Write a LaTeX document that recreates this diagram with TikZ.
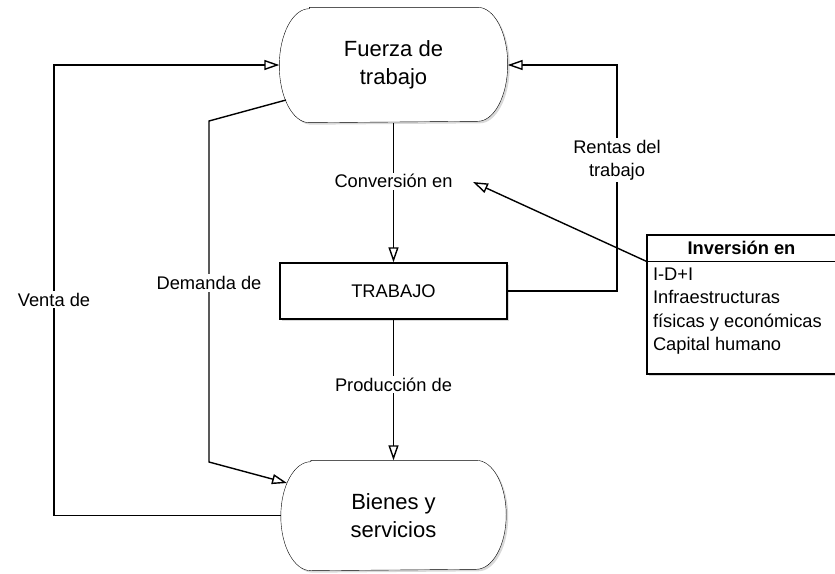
\documentclass[tikz,border=0pt]{standalone}
\usepackage{fontspec}
\setmainfont{Liberation Sans}
\usetikzlibrary{arrows.meta,shadows,backgrounds,calc}
\begin{document}
\begin{tikzpicture}[x=1pt,y=-1pt,
  line width=1.4pt,
  arr/.style={-{Triangle[open,length=15pt,width=10pt,fill=white]}},
  big/.style={font=\fontsize{22}{28}\selectfont, align=center},
  lbl/.style={fill=white, inner sep=2pt, font=\fontsize{18.3}{23}\selectfont, align=center},
  shad/.style={drop shadow={shadow xshift=2pt, shadow yshift=-2pt, opacity=0.3}},
  termbox/.style={draw=none, minimum width=#1, inner sep=0pt},
]
\useasboundingbox (0,0) rectangle (835,573);

% nodes
\node[termbox=227pt, minimum height=114pt, big] (fuerza) at (393.5,65) {Fuerza de\\trabajo};
\node[termbox=224pt, minimum height=109pt, big] (bienes) at (393.5,515.5) {Bienes y\\servicios};
\node[draw, fill=white, shad, minimum width=227pt, minimum height=56pt, inner sep=0pt,
      font=\fontsize{18.3}{23}\selectfont] (trabajo) at (393.5,291) {TRABAJO};
\node[draw, fill=white, shad, minimum width=189pt, minimum height=139pt, inner sep=0pt] (inv) at (741.5,304.5) {};
\coordinate (hl) at ($(inv.north west)+(0,27)$);
\coordinate (hr) at ($(inv.north east)+(0,27)$);
\draw (hl) -- (hr);
\node[font=\bfseries\fontsize{18.3}{23}\selectfont, inner sep=0pt] (invh) at ($(inv.north)+(0,13.5)$) {Inversión en};
\node[anchor=north west, inner sep=0pt, align=left, font=\fontsize{18.3}{23.3}\selectfont] (invt)
  at ($(inv.north west)+(6,33)$) {I-D+I\\Infraestructuras\\físicas y económicas\\Capital humano};

% terminator shapes
\begin{scope}[on background layer]
\draw[fill=white, shad] ([xshift=30pt]fuerza.north west) -- ([xshift=-30pt]fuerza.north east)
   arc[start angle=90, end angle=-90, x radius=30pt, y radius=57pt]
   -- ([xshift=30pt]fuerza.south west)
   arc[start angle=270, end angle=90, x radius=30pt, y radius=57pt] -- cycle;
\draw[fill=white, shad] ([xshift=30pt]bienes.north west) -- ([xshift=-30pt]bienes.north east)
   arc[start angle=90, end angle=-90, x radius=30pt, y radius=54.5pt]
   -- ([xshift=30pt]bienes.south west)
   arc[start angle=270, end angle=90, x radius=30pt, y radius=54.5pt] -- cycle;
\end{scope}

% coordinates for bends
\coordinate (vb) at (54,515.5);
\coordinate (vt) at (54,65);
\coordinate (d1) at (286,100);
\coordinate (d2) at (209,121);
\coordinate (d3) at (209,462);
\coordinate (d4) at (287,483);
\coordinate (rb) at (617,291);
\coordinate (rt) at (617,65);
\coordinate (ctip) at (473,182);

% connectors
\draw[arr] (fuerza.south) -- node[lbl, pos=0.42] {Conversión en} (trabajo.north);
\draw[arr] (trabajo.south) -- node[lbl, pos=0.46] {Producción de} (bienes.north);
\draw[arr] (bienes.west) -- (vb) -- node[lbl, pos=0.479] {Venta de} (vt) -- (fuerza.west);
\draw[arr] (d1) -- (d2) -- node[lbl, pos=0.475] {Demanda de} (d3) -- (d4);
\draw[arr] (trabajo.east) -- (rb) -- node[lbl, pos=0.58] {Rentas del\\trabajo} (rt) -- (fuerza.east);
\draw[arr] (hl) -- (ctip);
\end{tikzpicture}
\end{document}
